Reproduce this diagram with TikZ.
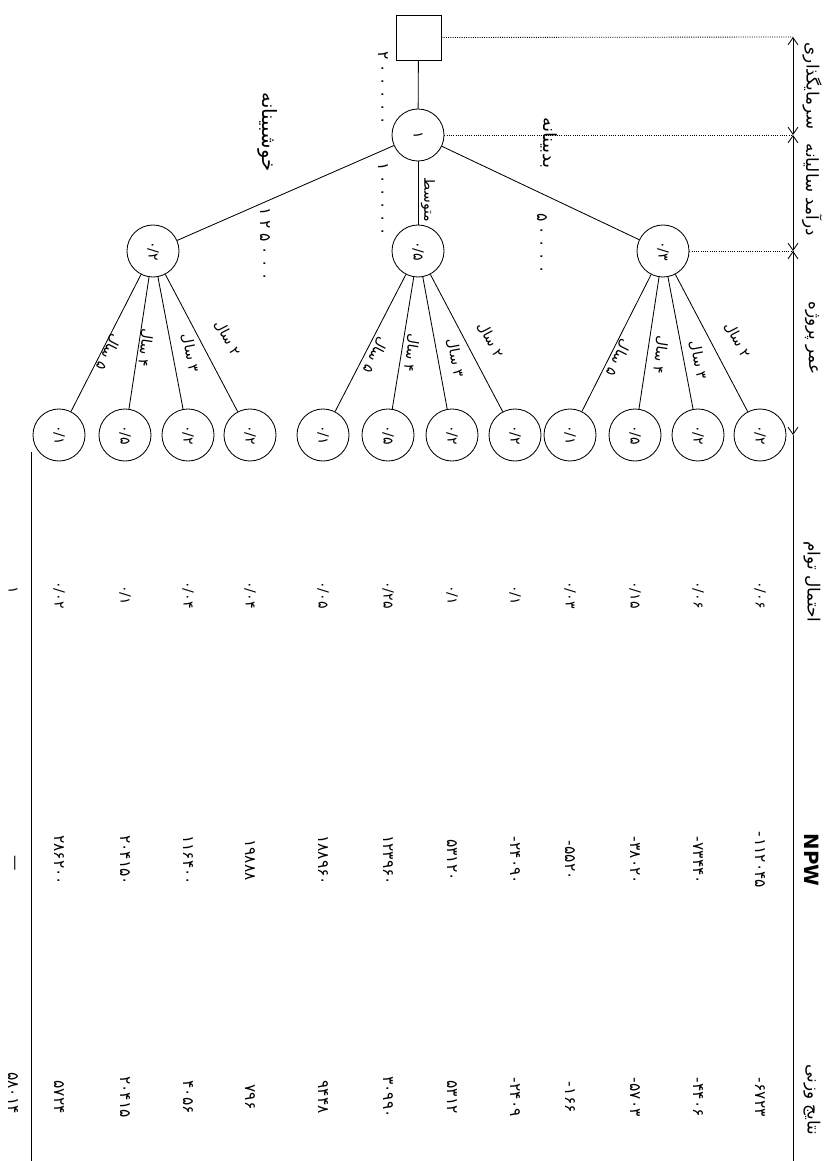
\documentclass[tikz,border=0pt]{standalone}
\usepackage{fontspec}
\TeXXeTstate=1
\newfontfamily\fa[Script=Arabic]{DejaVu Sans}
\newfontfamily\fawide[Script=Arabic,LetterSpace=30]{DejaVu Sans}
\newfontfamily\lat{DejaVu Sans}
\usetikzlibrary{arrows.meta}
\newcommand{\psl}{/}
\newcommand{\mn}{\hbox{-}\kern0.6pt}
\begin{document}
\begin{tikzpicture}[x=0.025cm, y=0.025cm, line width=0.6pt,
  dotl/.style={densely dotted, line width=0.6pt},
  dimarrow/.style={{Straight Barb[length=5pt,width=7pt]}-{Straight Barb[length=5pt,width=7pt]}},
  decbox/.style={draw, rectangle, minimum size=1.125cm, inner sep=0pt},
  chance/.style={draw, circle, minimum size=1.3cm, inner sep=0pt, font=\fa\fontsize{10}{12}\selectfont},
  num/.style={font=\fa\fontsize{11}{13}\selectfont, inner sep=0pt},
  tval/.style={font=\fawide\fontsize{11}{13}\selectfont, inner sep=0pt},
  prob/.style={font=\fa\fontsize{10}{12}\selectfont, inner sep=0pt},
  head/.style={font=\fa\fontsize{12}{14}\selectfont, inner sep=0pt},
  blbl/.style={font=\fa\fontsize{14}{16}\selectfont, inner sep=0pt},
  elbl/.style={font=\fa\fontsize{10}{12}\selectfont, inner sep=0pt},
]
\useasboundingbox (0,0) rectangle (835,-1161);
\begin{scope}[rotate=-90, transform shape]
  % tree
  \node[decbox] (d) at (37.5,418.5) {};
  \node[chance] (n1) at (135,418) {۱};
  \node[chance] (c3) at (251,663) {۰\psl{}۳};
  \node[chance] (c5) at (251,418) {۰\psl{}۵};
  \node[chance] (c2) at (251,153) {۰\psl{}۲};
  \draw (d) -- (n1);
  \draw (n1) -- (c3);
  \draw (n1) -- (c5);
  \draw (n1) -- (c2);
  % branch labels
  \node[tval] (V0) at (88,383) {۲۰۰۰۰۰};
  \node[blbl, font=\fa\fontsize{13}{15}\selectfont] (B1) at (143,549) {بدبینانه};
  \node[tval] (V1) at (244,542) {۵۰۰۰۰};
  \node[blbl, font=\fa\fontsize{10}{12}\selectfont] (B2) at (200,428) {متوسط};
  \node[tval] (V2) at (199,383) {۱۰۰۰۰۰};
  \node[blbl] (B3) at (132,268) {خوشبینانه};
  \node[tval] (V3) at (244,265) {۱۲۵۰۰۰};
  % leaves, probabilities, NPW, weighted results
  \foreach \i/\v/\lp/\pa/\yr/\ang/\lu/\lv/\jp/\npw/\wv in {
    1/760/۰\psl{}۲/c3/۲/27.8/340/737/۰\psl{}۰۶/\mn{}۱۱۲۰۴۵/\mn{}۶۷۲۳,
    2/698/۰\psl{}۲/c3/۳/10.8/360/698/۰\psl{}۰۶/\mn{}۷۳۴۴۰/\mn{}۴۴۰۶,
    3/635/۰\psl{}۵/c3/۴/-8.7/355/660/۰\psl{}۱۵/\mn{}۳۸۰۲۰/\mn{}۵۷۰۳,
    4/570/۰\psl{}۱/c3/۵/-26.8/358/618/۰\psl{}۰۳/\mn{}۵۵۲۰/\mn{}۱۶۶,
    5/515/۰\psl{}۲/c5/۲/27.8/340/490/۰\psl{}۱/\mn{}۲۴۰۹۰/\mn{}۲۴۰۹,
    6/452/۰\psl{}۲/c5/۳/10.5/358/455/۰\psl{}۱/۵۳۱۲۰/۵۳۱۲,
    7/388/۰\psl{}۵/c5/۴/-9.3/353/411/۰\psl{}۲۵/۱۲۳۹۶۰/۳۰۹۹۰,
    8/323/۰\psl{}۱/c5/۵/-27.3/355/375/۰\psl{}۰۵/۱۸۸۹۶۰/۹۴۴۸,
    9/250/۰\psl{}۲/c2/۲/27.8/338/227/۰\psl{}۰۴/۱۹۸۸۸/۷۹۶,
    10/188/۰\psl{}۲/c2/۳/10.8/353/190/۰\psl{}۰۴/۱۱۶۴۰۰/۴۰۵۶,
    11/125/۰\psl{}۵/c2/۴/-8.7/348/145/۰\psl{}۱/۲۰۴۱۵۰/۲۰۴۱۵,
    12/59/۰\psl{}۱/c2/۵/-27.1/352/108/۰\psl{}۰۲/۲۸۶۲۰۰/۵۷۲۴}
  {
    \node[chance] (L\i) at (435,\v) {\lp};
    \draw (\pa) -- (L\i);
    \node[elbl, rotate=\ang] (E\i) at (\lu,\lv) {\beginR\yr{} سال\endR};
    \node[prob] (P\i) at (595,\v) {\jp};
    \node[num] (N\i) at (860,\v) {\npw};
    \node[num] (W\i) at (1097,\v) {\wv};
  }
  % header axis
  \coordinate (a0) at (37,793);
  \coordinate (a1) at (135,793);
  \coordinate (a2) at (251,793);
  \coordinate (a3) at (435,793);
  \coordinate (a4) at (1161,793);
  \draw[dimarrow] (a0) -- (a1);
  \draw[dimarrow] (a1) -- (a2);
  \draw[dimarrow] (a2) -- (a3);
  \draw (a3) -- (a4);
  \draw[dotl] (d.north) -- (a0);
  \draw[dotl] (n1.north) -- (a1);
  \draw[dotl] (c3.north) -- (a2);
  % headers
  \node[head] (H1) at (86,812) {سرمایگذاری};
  \node[head] (H2) at (190,812) {\beginR درآمد سالیانه\endR};
  \node[head] (H3) at (338,812) {\beginR عمر پروژه\endR};
  \node[head] (H4) at (582,812) {\beginR احتمال توام\endR};
  \node[head, font=\lat\bfseries\fontsize{14}{17}\selectfont] (H5) at (860,812) {NPW};
  \node[head] (H6) at (1100,812) {\beginR نتایج وزنی\endR};
  % totals
  \coordinate (s0) at (452,31);
  \coordinate (s1) at (1161,31);
  \draw (s0) -- (s1);
  \node[prob] (T1) at (590,13) {۱};
  \node[num] (T2) at (863,13) {—};
  \node[num] (T3) at (1093,13) {۵۸۰۱۴};
\end{scope}
\end{tikzpicture}
\end{document}
